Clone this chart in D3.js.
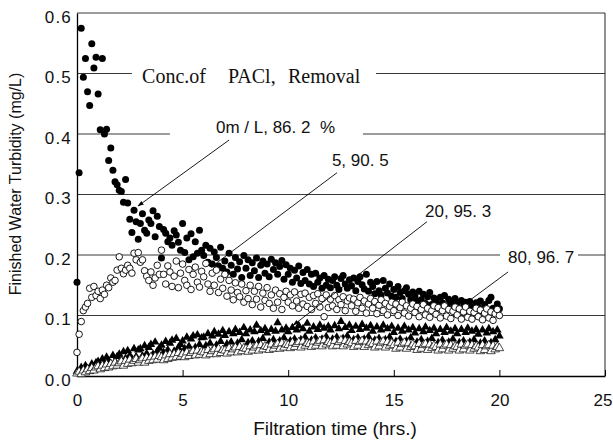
<!DOCTYPE html>
<html lang="en">
<head>
<meta charset="UTF-8">
<title>Finished Water Turbidity</title>
<script src="https://d3js.org/d3.v7.min.js"></script>
<style>
  body { margin: 0; background: #fff; }
  svg { display: block; font-family: "Liberation Sans", Arial, sans-serif; }
</style>
</head>
<body>
<div id="chart"></div>
<script>
// filtration time (hrs.), one reading every 6 minutes
const hours = [
  0,0.1,0.2,0.3,0.4,0.5,0.6,0.7,0.8,0.9,
  1,1.1,1.2,1.3,1.4,1.5,1.6,1.7,1.8,1.9,
  2,2.1,2.2,2.3,2.4,2.5,2.6,2.7,2.8,2.9,
  3,3.1,3.2,3.3,3.4,3.5,3.6,3.7,3.8,3.9,
  4,4.1,4.2,4.3,4.4,4.5,4.6,4.7,4.8,4.9,
  5,5.1,5.2,5.3,5.4,5.5,5.6,5.7,5.8,5.9,
  6,6.1,6.2,6.3,6.4,6.5,6.6,6.7,6.8,6.9,
  7,7.1,7.2,7.3,7.4,7.5,7.6,7.7,7.8,7.9,
  8,8.1,8.2,8.3,8.4,8.5,8.6,8.7,8.8,8.9,
  9,9.1,9.2,9.3,9.4,9.5,9.6,9.7,9.8,9.9,
  10,10.1,10.2,10.3,10.4,10.5,10.6,10.7,10.8,10.9,
  11,11.1,11.2,11.3,11.4,11.5,11.6,11.7,11.8,11.9,
  12,12.1,12.2,12.3,12.4,12.5,12.6,12.7,12.8,12.9,
  13,13.1,13.2,13.3,13.4,13.5,13.6,13.7,13.8,13.9,
  14,14.1,14.2,14.3,14.4,14.5,14.6,14.7,14.8,14.9,
  15,15.1,15.2,15.3,15.4,15.5,15.6,15.7,15.8,15.9,
  16,16.1,16.2,16.3,16.4,16.5,16.6,16.7,16.8,16.9,
  17,17.1,17.2,17.3,17.4,17.5,17.6,17.7,17.8,17.9,
  18,18.1,18.2,18.3,18.4,18.5,18.6,18.7,18.8,18.9,
  19,19.1,19.2,19.3,19.4,19.5,19.6,19.7,19.8,19.9,
  20
];

// finished water turbidity (mg/L) per PACl dose
const pacl0 = [
  .155,.336,.575,.494,.525,.470,.447,.549,.509,.527,
  .466,.407,.525,.400,.408,.356,.377,.340,.321,.316,
  .307,.305,.287,.325,.286,.259,.237,.274,.255,.226,
  .252,.268,.241,.236,.258,.252,.273,.230,.264,.247,
  .195,.242,.236,.222,.228,.216,.240,.233,.221,.208,
  .252,.204,.228,.192,.235,.197,.222,.203,.241,.208,
  .199,.216,.188,.211,.185,.205,.196,.182,.213,.178,
  .190,.172,.203,.183,.168,.196,.177,.189,.163,.199,
  .178,.192,.166,.187,.174,.195,.163,.183,.190,.170,
  .185,.164,.193,.176,.187,.168,.181,.191,.160,.184,
  .168,.178,.155,.175,.162,.182,.153,.171,.158,.176,
  .152,.168,.148,.170,.155,.162,.145,.166,.150,.160,
  .146,.158,.164,.150,.143,.161,.166,.152,.145,.159,
  .149,.162,.141,.156,.164,.151,.144,.168,.140,.155,
  .148,.136,.156,.141,.134,.158,.145,.137,.152,.132,
  .143,.130,.148,.138,.128,.141,.146,.135,.126,.139,
  .132,.124,.140,.126,.135,.120,.131,.138,.118,.129,
  .124,.114,.130,.121,.133,.116,.127,.122,.112,.128,
  .119,.110,.125,.115,.122,.108,.123,.114,.109,.121,
  .114,.124,.106,.118,.110,.125,.130,.112,.105,.119,
  .111
];
const pacl5 = [
  .039,.069,.090,.108,.114,.120,.145,.130,.148,.133,
  .140,.128,.142,.135,.150,.146,.162,.155,.158,.175,
  .197,.178,.169,.175,.183,.178,.170,.203,.192,.204,
  .188,.192,.174,.165,.158,.172,.150,.162,.183,.168,
  .208,.168,.152,.182,.172,.148,.165,.190,.146,.170,
  .185,.158,.150,.176,.143,.168,.180,.155,.147,.173,
  .164,.186,.152,.140,.170,.150,.175,.138,.160,.145,
  .168,.132,.158,.142,.126,.154,.138,.131,.152,.122,
  .141,.128,.150,.118,.140,.127,.148,.114,.137,.125,
  .146,.120,.134,.112,.142,.122,.136,.110,.130,.140,
  .122,.134,.116,.139,.124,.112,.135,.119,.137,.115,
  .130,.110,.133,.120,.136,.114,.128,.098,.134,.113,
  .127,.116,.133,.110,.126,.118,.131,.108,.124,.129,
  .116,.127,.107,.121,.130,.112,.124,.104,.119,.128,
  .112,.123,.103,.117,.126,.108,.120,.101,.115,.122,
  .108,.119,.100,.113,.122,.104,.116,.099,.112,.119,
  .105,.115,.098,.110,.118,.101,.112,.097,.108,.116,
  .102,.113,.096,.108,.116,.099,.110,.095,.107,.114,
  .101,.111,.094,.106,.114,.097,.107,.094,.105,.112,
  .098,.109,.093,.104,.111,.096,.106,.092,.103,.110,
  .100
];
const pacl20 = [
  .008,.005,.014,.008,.017,.012,.009,.020,.014,.022,
  .024,.016,.028,.019,.031,.025,.020,.034,.024,.032,
  .036,.026,.040,.029,.042,.034,.028,.045,.032,.043,
  .045,.033,.050,.037,.047,.052,.036,.056,.041,.046,
  .051,.039,.057,.043,.054,.059,.041,.062,.047,.052,
  .058,.045,.064,.049,.061,.066,.047,.068,.052,.063,
  .064,.050,.070,.054,.066,.073,.051,.069,.057,.075,
  .067,.053,.073,.056,.070,.077,.054,.072,.060,.080,
  .070,.055,.076,.058,.073,.084,.057,.075,.062,.078,
  .071,.056,.077,.060,.074,.088,.058,.076,.063,.079,
  .073,.058,.080,.061,.076,.083,.060,.078,.064,.087,
  .074,.059,.081,.063,.077,.084,.061,.079,.065,.082,
  .076,.061,.083,.064,.078,.090,.062,.080,.066,.084,
  .075,.060,.082,.063,.077,.085,.061,.079,.065,.083,
  .074,.059,.081,.062,.076,.084,.060,.078,.064,.082,
  .072,.057,.079,.061,.074,.082,.058,.076,.063,.080,
  .071,.056,.078,.060,.073,.081,.057,.075,.062,.079,
  .070,.055,.077,.059,.072,.080,.056,.074,.061,.078,
  .070,.055,.077,.058,.072,.079,.056,.074,.060,.077,
  .069,.054,.076,.058,.071,.078,.055,.073,.060,.076,
  .066
];
const pacl80 = [
  .004,.007,.003,.009,.006,.011,.008,.013,.009,.014,
  .016,.011,.017,.013,.019,.014,.020,.016,.022,.017,
  .021,.024,.017,.025,.020,.027,.021,.025,.028,.022,
  .026,.029,.022,.030,.025,.031,.026,.032,.027,.033,
  .031,.026,.034,.028,.036,.030,.036,.031,.038,.032,
  .036,.031,.039,.033,.038,.041,.034,.042,.035,.040,
  .039,.034,.043,.036,.041,.044,.036,.045,.038,.043,
  .042,.037,.046,.039,.044,.047,.039,.048,.041,.046,
  .045,.040,.049,.042,.047,.050,.042,.051,.044,.049,
  .048,.043,.052,.045,.050,.053,.045,.054,.047,.052,
  .051,.046,.055,.048,.053,.056,.047,.057,.050,.054,
  .053,.048,.057,.050,.055,.058,.049,.059,.052,.056,
  .054,.049,.058,.050,.056,.059,.049,.058,.052,.056,
  .054,.048,.058,.050,.056,.058,.048,.057,.051,.055,
  .053,.047,.057,.049,.055,.057,.047,.056,.050,.054,
  .051,.045,.055,.047,.053,.055,.045,.054,.048,.052,
  .049,.043,.053,.045,.051,.053,.043,.052,.046,.050,
  .048,.042,.052,.044,.050,.052,.042,.051,.045,.049,
  .048,.042,.052,.044,.050,.052,.042,.051,.045,.049,
  .047,.041,.051,.043,.049,.051,.041,.050,.044,.048,
  .046
];

const xTicks = [0, 5, 10, 15, 20, 25];
const yTicks = [0, 0.1, 0.2, 0.3, 0.4, 0.5, 0.6];
const legendTitle = ["Conc.of", "PACl,", "Removal"];
const seriesLabels = ["0m / L, 86. 2  %", "5, 90. 5", "20, 95. 3", "80, 96. 7"];

const width = 613, height = 440;
const x = d3.scaleLinear().domain([0, 25]).range([77, 605]);
const y = d3.scaleLinear().domain([0, 0.6]).range([376, 13]);

const svg = d3.select("#chart").append("svg")
    .attr("width", width)
    .attr("height", height);

// arrow head for the leader lines
svg.append("defs").append("marker")
    .attr("id", "arrow")
    .attr("viewBox", "0 0 10 10")
    .attr("refX", 9).attr("refY", 5)
    .attr("markerWidth", 7).attr("markerHeight", 7)
    .attr("orient", "auto")
  .append("path")
    .attr("d", "M0,1.5L10,5L0,8.5Z")
    .attr("fill", "#000");

// horizontal gridlines
svg.append("g")
  .selectAll("line")
  .data(yTicks.slice(1))
  .join("line")
    .attr("x1", x(0)).attr("x2", x(25))
    .attr("y1", d => y(d)).attr("y2", d => y(d))
    .attr("stroke", "#222")
    .attr("stroke-width", 0.9);

svg.append("line")
    .attr("x1", x(25)).attr("x2", x(25))
    .attr("y1", y(0)).attr("y2", y(0.6))
    .attr("stroke", "#222");

// axes
svg.append("g")
    .attr("transform", `translate(0,${y(0)})`)
    .call(d3.axisBottom(x).tickValues(xTicks).tickFormat(d3.format("d"))
        .tickSizeInner(-6).tickSizeOuter(0).tickPadding(18))
    .attr("font-size", 17)
    .attr("font-family", '"Liberation Sans", Arial, sans-serif')
    .call(g => g.select(".domain").attr("stroke", "#000").attr("stroke-width", 1.3))
    .call(g => g.selectAll("text").attr("fill", "#111"))
    .call(g => g.selectAll(".tick").filter(d => d === 25).select("text")
        .attr("text-anchor", "end").attr("x", 7));

svg.append("g")
    .attr("transform", `translate(${x(0)},0)`)
    .call(d3.axisLeft(y).tickValues(yTicks).tickFormat(d3.format(".1f"))
        .tickSize(0).tickPadding(5))
    .attr("font-size", 17)
    .attr("font-family", '"Liberation Sans", Arial, sans-serif')
    .call(g => g.select(".domain").attr("stroke", "#000").attr("stroke-width", 1.3))
    .call(g => g.selectAll("text").attr("fill", "#111").attr("dy", "0.55em").attr("letter-spacing", 1.2));

// data, drawn in series order (later series on top)
const rows = arr => hours.map((h, i) => ({ h, v: arr[i] }));

svg.append("g").selectAll("circle")
  .data(rows(pacl0))
  .join("circle")
    .attr("cx", d => x(d.h)).attr("cy", d => y(d.v))
    .attr("r", 3.5)
    .attr("fill", "#000");

svg.append("g").selectAll("circle")
  .data(rows(pacl5))
  .join("circle")
    .attr("cx", d => x(d.h)).attr("cy", d => y(d.v))
    .attr("r", 3.3)
    .attr("fill", "#fff")
    .attr("stroke", "#000")
    .attr("stroke-width", 0.9);

const tri = d3.symbol(d3.symbolTriangle, 32);

svg.append("g").selectAll("path")
  .data(rows(pacl20))
  .join("path")
    .attr("transform", d => `translate(${x(d.h)},${y(d.v)})`)
    .attr("d", tri)
    .attr("fill", "#000");

svg.append("g").selectAll("path")
  .data(rows(pacl80))
  .join("path")
    .attr("transform", d => `translate(${x(d.h)},${y(d.v)})`)
    .attr("d", tri)
    .attr("fill", "#fff")
    .attr("stroke", "#000")
    .attr("stroke-width", 0.7);

// text boxes that mask the gridlines
const boxes = [
  { t0: 2.6, t1: 14.16, v0: 0.47, v1: 0.53 },
  { t0: 4.4, t1: 13.54, v0: 0.386, v1: 0.418 },
  { t0: 20.03, t1: 23.72, v0: 0.176, v1: 0.21 }
];
svg.append("g").selectAll("rect")
  .data(boxes)
  .join("rect")
    .attr("x", d => x(d.t0)).attr("width", d => x(d.t1) - x(d.t0))
    .attr("y", d => y(d.v1)).attr("height", d => y(d.v0) - y(d.v1))
    .attr("fill", "#fff");

// legend title
const titlePos = [3.08, 7.15, 9.99];
svg.append("text")
    .attr("y", y(0.484))
    .attr("font-family", '"Liberation Serif", "Times New Roman", serif')
    .attr("font-size", 20)
    .attr("fill", "#111")
  .selectAll("tspan")
  .data(legendTitle)
  .join("tspan")
    .attr("x", (d, i) => x(titlePos[i]))
    .text(d => d);

// series labels with leader lines
const notes = [
  { tx: 6.58,  vy: 0.402, from: [7.20, 0.390],  to: [2.89, 0.281] },
  { tx: 12.07, vy: 0.347, from: [12.31, 0.336], to: [6.35, 0.180] },
  { tx: 16.48, vy: 0.263, from: [16.57, 0.255], to: [10.24, 0.084] },
  { tx: 20.41, vy: 0.186, from: [20.41, 0.172], to: [18.40, 0.120] }
];
svg.append("g").selectAll("line")
  .data(notes)
  .join("line")
    .attr("x1", d => x(d.from[0])).attr("y1", d => y(d.from[1]))
    .attr("x2", d => x(d.to[0])).attr("y2", d => y(d.to[1]))
    .attr("stroke", "#000")
    .attr("stroke-width", 0.9)
    .attr("marker-end", "url(#arrow)");

svg.append("g").selectAll("text")
  .data(notes)
  .join("text")
    .attr("x", d => x(d.tx)).attr("y", d => y(d.vy))
    .attr("font-size", 17)
    .attr("fill", "#111")
    .style("white-space", "pre")
    .text((d, i) => seriesLabels[i]);

// axis titles
svg.append("text")
    .attr("x", 335).attr("y", 435)
    .attr("text-anchor", "middle")
    .attr("font-size", 19)
    .attr("fill", "#111")
    .text("Filtration time (hrs.)");

svg.append("text")
    .attr("transform", "translate(21,184) rotate(-90)")
    .attr("text-anchor", "middle")
    .attr("font-size", 16)
    .attr("fill", "#111")
    .text("Finished Water Turbidity (mg/L)");
</script>
</body>
</html>
